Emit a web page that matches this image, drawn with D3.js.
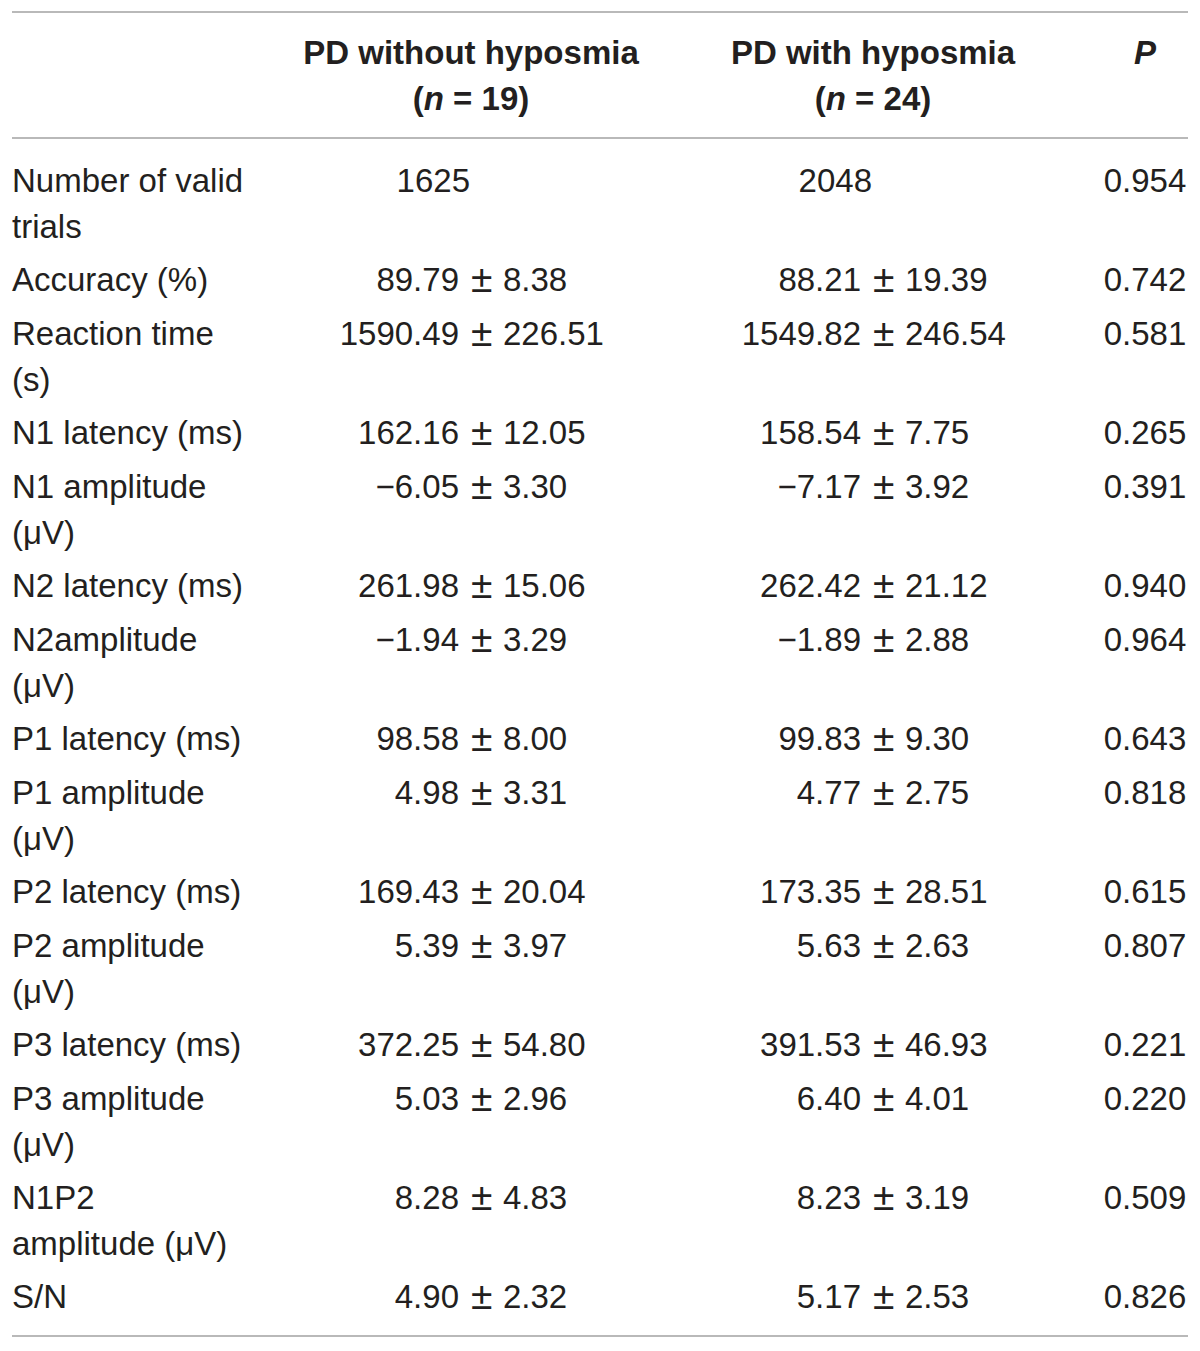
<!DOCTYPE html>
<html>
<head>
<meta charset="utf-8">
<script src="https://cdn.jsdelivr.net/npm/d3@7"></script>
<style>
  body { margin: 0; background: #fff; }
  text { font-family: "Liberation Sans", Arial, Helvetica, sans-serif; fill: #231f20; }
</style>
</head>
<body>
<div id="chart"></div>
<script>
// table content
const labels = [
  ["Number of valid", "trials"],
  ["Accuracy (%)"],
  ["Reaction time", "(s)"],
  ["N1 latency (ms)"],
  ["N1 amplitude", "(\u03bcV)"],
  ["N2 latency (ms)"],
  ["N2amplitude", "(\u03bcV)"],
  ["P1 latency (ms)"],
  ["P1 amplitude", "(\u03bcV)"],
  ["P2 latency (ms)"],
  ["P2 amplitude", "(\u03bcV)"],
  ["P3 latency (ms)"],
  ["P3 amplitude", "(\u03bcV)"],
  ["N1P2", "amplitude (\u03bcV)"],
  ["S/N"]
];
const noHypMean = ["1625", "89.79", "1590.49", "162.16", "\u22126.05", "261.98", "\u22121.94", "98.58", "4.98", "169.43", "5.39", "372.25", "5.03", "8.28", "4.90"];
const noHypSd   = [null, "8.38", "226.51", "12.05", "3.30", "15.06", "3.29", "8.00", "3.31", "20.04", "3.97", "54.80", "2.96", "4.83", "2.32"];
const hypMean   = ["2048", "88.21", "1549.82", "158.54", "\u22127.17", "262.42", "\u22121.89", "99.83", "4.77", "173.35", "5.63", "391.53", "6.40", "8.23", "5.17"];
const hypSd     = [null, "19.39", "246.54", "7.75", "3.92", "21.12", "2.88", "9.30", "2.75", "28.51", "2.63", "46.93", "4.01", "3.19", "2.53"];
const pValues   = ["0.954", "0.742", "0.581", "0.265", "0.391", "0.940", "0.964", "0.643", "0.818", "0.615", "0.807", "0.221", "0.220", "0.509", "0.826"];
const headers = [
  {key: "noHyp", title: "PD without hyposmia", n: "19"},
  {key: "hyp", title: "PD with hyposmia", n: "24"}
];

const width = 1200, height = 1351;
const fontSize = 33;
const lineGap = 46;      // distance between wrapped lines
const rowBase = 54;      // height of a one-line row
const rowExtra = 45;     // added per extra wrapped line

const svg = d3.select("#chart").append("svg")
  .attr("width", width)
  .attr("height", height);

// column anchors (the ± sign starts on these x positions)
const colX = d3.scaleOrdinal()
  .domain(["label", "noHyp", "hyp", "p"])
  .range([12, 471, 873, 1145]);

// rule lines
const ruleTop = 12, ruleHead = 138;
const rows = labels.map((l, i) => ({
  label: l,
  cells: [
    {key: "noHyp", mean: noHypMean[i], sd: noHypSd[i]},
    {key: "hyp", mean: hypMean[i], sd: hypSd[i]}
  ],
  p: pValues[i]
}));
let acc = ruleHead + 42;
rows.forEach(r => { r.y = acc; acc += rowBase + rowExtra * (r.label.length - 1); });
const ruleBottom = rows[rows.length - 1].y + 40;

svg.selectAll("line.rule")
  .data([ruleTop, ruleHead, ruleBottom])
  .join("line")
  .attr("class", "rule")
  .attr("x1", 12).attr("x2", 1188)
  .attr("y1", d => d).attr("y2", d => d)
  .attr("stroke", "#b9b9b9")
  .attr("stroke-width", 2);

// header
const head = svg.append("g").attr("font-weight", "bold").attr("font-size", fontSize);
headers.forEach(h => {
  head.append("text")
    .attr("x", colX(h.key)).attr("y", 64)
    .attr("text-anchor", "middle")
    .text(h.title);
  const t = head.append("text")
    .attr("x", colX(h.key)).attr("y", 110)
    .attr("text-anchor", "middle");
  t.append("tspan").text("(");
  t.append("tspan").attr("font-style", "italic").text("n");
  t.append("tspan").text(" = " + h.n + ")");
});
head.append("text")
  .attr("x", colX("p")).attr("y", 64)
  .attr("text-anchor", "middle")
  .attr("font-style", "italic")
  .text("P");

// body
const body = svg.append("g").attr("font-size", fontSize);
const rowG = body.selectAll("g.row")
  .data(rows)
  .join("g")
  .attr("class", "row")
  .attr("transform", d => `translate(0, ${d.y + 12})`);

rowG.selectAll("text.lab")
  .data(d => d.label)
  .join("text")
  .attr("class", "lab")
  .attr("x", colX("label"))
  .attr("y", (d, i) => i * lineGap)
  .text(d => d);

rowG.each(function(r) {
  const g = d3.select(this);
  r.cells.forEach(c => {
    const x = colX(c.key);
    if (c.sd) {
      g.append("text").attr("x", x - 12).attr("text-anchor", "end").text(c.mean);
      g.append("text").attr("x", x).attr("y", 1).attr("font-size", 39).text("\u00b1");
      g.append("text").attr("x", x + 32).text(c.sd);
    } else {
      g.append("text").attr("x", x - 1).attr("text-anchor", "end").text(c.mean);
    }
  });
  g.append("text").attr("x", colX("p")).attr("text-anchor", "middle").text(r.p);
});
</script>
</body>
</html>
